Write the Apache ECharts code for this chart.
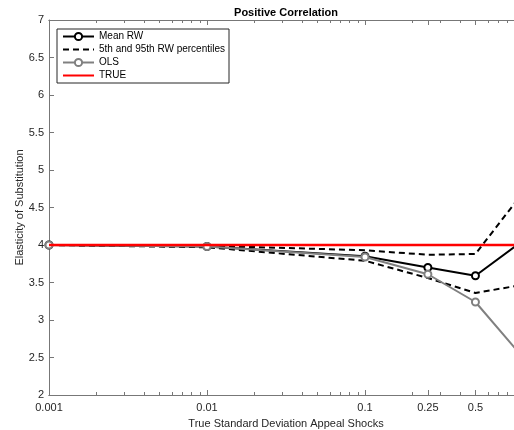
<!DOCTYPE html>
<html>
<head>
<meta charset="utf-8">
<script src="https://cdn.jsdelivr.net/npm/echarts@6/dist/echarts.min.js"></script>
<style>html,body{margin:0;padding:0;background:#fff;}#c{width:514px;height:430px;}</style>
</head>
<body>
<div id="c"></div>
<script>
const xValues = [0.001, 0.01, 0.1, 0.25, 0.5, 1];
const meanRW = [4.0, 3.98, 3.85, 3.70, 3.59, 4.06];
const upperRW = [4.0, 3.99, 3.93, 3.87, 3.88, 4.70];
const lowerRW = [4.0, 3.97, 3.79, 3.56, 3.36, 3.47];
const ols = [4.0, 3.98, 3.84, 3.61, 3.24, 2.50];
const trueVal = [4, 4, 4, 4, 4, 4];
const xMajorTicks = [0.001, 0.01, 0.1, 0.25, 0.5];
const xMinorTicks = [0.002,0.003,0.004,0.005,0.006,0.007,0.008,0.009,
                     0.02,0.03,0.04,0.05,0.06,0.07,0.08,0.09,
                     0.2,0.3,0.4,0.6,0.7,0.8,0.9];
const xTickLabels = ['0.001', '0.01', '0.1', '0.25', '0.5'];

const FONT = 'Liberation Sans, Arial, Helvetica, sans-serif';
const AX = '#777';
const pairs = arr => xValues.map((x, i) => [x, arr[i]]);

function xAxisDef(pos, ticks, len, labels) {
  return {
    type: 'log', logBase: 10, min: 0.001, max: 1, position: pos,
    axisLine: { show: true, lineStyle: { color: AX, width: 1 } },
    axisTick: { show: true, inside: true, length: len, customValues: ticks, lineStyle: { color: AX } },
    axisLabel: labels ? {
      show: true, customValues: xMajorTicks, margin: 7,
      fontFamily: FONT, fontSize: 11, color: '#262626',
      formatter: v => { const i = xMajorTicks.findIndex(t => Math.abs(t - v) < 1e-9); return i >= 0 ? xTickLabels[i] : ''; }
    } : { show: false },
    splitLine: { show: false },
    name: labels ? 'True Standard Deviation Appeal Shocks' : '',
    nameLocation: 'middle', nameGap: 23, nameMoveOverlap: false,
    nameTextStyle: { fontFamily: FONT, fontSize: 11, color: '#262626' }
  };
}

const chart = echarts.init(document.getElementById('c'), null, { renderer: 'canvas' });
chart.setOption({
  animation: false,
  backgroundColor: '#fff',
  title: {
    text: 'Positive Correlation', left: 286, top: 7, textAlign: 'center', padding: 0,
    textStyle: { fontFamily: FONT, fontSize: 11, fontWeight: 'bold', color: '#000' }
  },
  grid: { left: 49, top: 20, width: 474, height: 375, containLabel: false, outerBoundsMode: 'none' },
  legend: {
    orient: 'vertical', left: 57, top: 29, padding: [1, 4, 1, 5],
    backgroundColor: '#fff', borderColor: '#262626', borderWidth: 1, borderRadius: 0,
    itemWidth: 31, itemHeight: 9, itemGap: 0,
    textStyle: { fontFamily: FONT, fontSize: 10, color: '#000', lineHeight: 13 },
    data: [
      { name: 'Mean RW' },
      { name: '5th and 95th RW percentiles', itemStyle: { opacity: 0 } },
      { name: 'OLS' },
      { name: 'TRUE', itemStyle: { opacity: 0 } }
    ]
  },
  xAxis: [
    xAxisDef('bottom', xMajorTicks, 5, true),
    xAxisDef('top', xMajorTicks, 5, false),
    xAxisDef('top', xMinorTicks, 3, false),
    xAxisDef('bottom', xMinorTicks, 3, false)
  ],
  yAxis: {
    type: 'value', min: 2, max: 7, interval: 0.5,
    axisLine: { show: true, lineStyle: { color: AX, width: 1 } },
    axisTick: { show: true, inside: true, length: 5, lineStyle: { color: AX } },
    axisLabel: { margin: 5, fontFamily: FONT, fontSize: 11, color: '#262626' },
    splitLine: { show: false },
    name: 'Elasticity of Substitution', nameLocation: 'middle', nameGap: 24, nameMoveOverlap: false,
    nameTextStyle: { fontFamily: FONT, fontSize: 11, color: '#262626' }
  },
  series: [
    { name: 'Mean RW', type: 'line', data: pairs(meanRW), symbol: 'emptyCircle', symbolSize: 7,
      lineStyle: { color: '#000', width: 2 }, itemStyle: { color: '#000', borderWidth: 1.8 }, z: 3 },
    { name: '5th and 95th RW percentiles', type: 'line', data: pairs(upperRW), symbol: 'none',
      lineStyle: { color: '#000', width: 2, type: [6, 4] }, itemStyle: { color: '#000' }, z: 2 },
    { name: '5th and 95th RW percentiles', type: 'line', data: pairs(lowerRW), symbol: 'none',
      lineStyle: { color: '#000', width: 2, type: [6, 4] }, itemStyle: { color: '#000' }, z: 2 },
    { name: 'OLS', type: 'line', data: pairs(ols), symbol: 'emptyCircle', symbolSize: 7,
      lineStyle: { color: '#808080', width: 2 }, itemStyle: { color: '#808080', borderWidth: 1.8 }, z: 4 },
    { name: 'TRUE', type: 'line', data: pairs(trueVal), symbol: 'none',
      lineStyle: { color: '#ff0000', width: 2.5 }, itemStyle: { color: '#ff0000' }, z: 5 }
  ]
});
</script>
</body>
</html>
